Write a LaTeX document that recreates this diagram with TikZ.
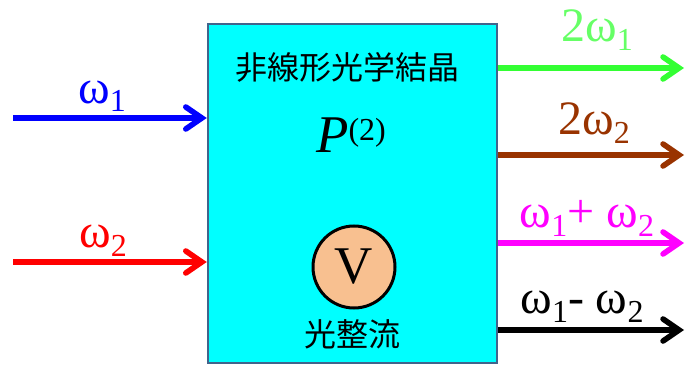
\documentclass[tikz,border=0pt]{standalone}
\usepackage{fontspec}
\setmainfont{Liberation Serif}
\newfontfamily\jpfont{Noto Sans CJK JP}
\usepackage{xcolor}
\usepackage{tikz}
\usetikzlibrary{arrows.meta,positioning,calc}

\definecolor{xtalfill}{RGB}{0,255,255}
\definecolor{xtaledge}{RGB}{65,100,140}
\definecolor{meterfill}{RGB}{248,192,144}
\definecolor{shgone}{RGB}{51,255,51}
\definecolor{shgonetext}{RGB}{102,255,102}
\definecolor{shgtwo}{RGB}{153,51,0}
\definecolor{sumfreq}{RGB}{255,0,255}
\newcommand{\om}[1]{ω\raisebox{-4.5pt}{\fontsize{16}{16}\selectfont #1}}

\begin{document}
\begin{tikzpicture}[x=0.5pt,y=0.5pt,
  beam/.style={line width=2.8pt,-{Straight Barb[length=8pt,width=11pt,line cap=round]}},
  lab/.style={font=\fontsize{24}{24}\selectfont,anchor=base,inner sep=0pt}]
\useasboundingbox (0,0) rectangle (686,365);
% crystal
\node[draw=xtaledge,fill=xtalfill,line width=1.25pt,minimum width=144.5pt,minimum height=169.5pt,inner sep=0pt] (xtal) at (352.5,171.5) {};
\node[font=\jpfont\fontsize{16}{16}\selectfont] (name) at (347,298) {非線形光学結晶};
\node[font=\fontsize{26.5}{26.5}\selectfont,anchor=base,inner sep=0pt] (pol) at (351,213) {\textit{P}\raisebox{6pt}{\fontsize{16}{16}\selectfont(2)}};
\node[circle,draw=black,fill=meterfill,line width=1.5pt,minimum size=41pt,inner sep=0pt,font=\fontsize{26.5}{26.5}\selectfont] (meter) at (354,98) {V};
\node[font=\jpfont\fontsize{16}{16}\selectfont] (rect) at (352,31) {光整流};
% inputs
\foreach \y/\col [count=\i] in {247/blue,103/red} {
    \coordinate (in\i) at (13,\y);
    \draw[beam,\col] (in\i) -- (xtal.west |- in\i);
}
\node[lab,blue] (l1) at (102,262) {\om{1}};
\node[lab,red] (l2) at (103,118) {\om{2}};
% outputs
\foreach \y/\col [count=\i] in {297/shgone,210/shgtwo,122/sumfreq,35/black} {
    \coordinate (out\i) at (684,\y);
    \draw[beam,\col] (xtal.east |- out\i) -- (out\i);
}
\node[lab,shgonetext] (o1) at (597,323) {2\om{1}};
\node[lab,shgtwo] (o2) at (594,230) {2\om{2}};
\node[lab,sumfreq] (o3) at (587,138) {\om{1}+ \om{2}};
\node[lab,black] (o4) at (582,52) {\om{1}- \om{2}};
\end{tikzpicture}
\end{document}
